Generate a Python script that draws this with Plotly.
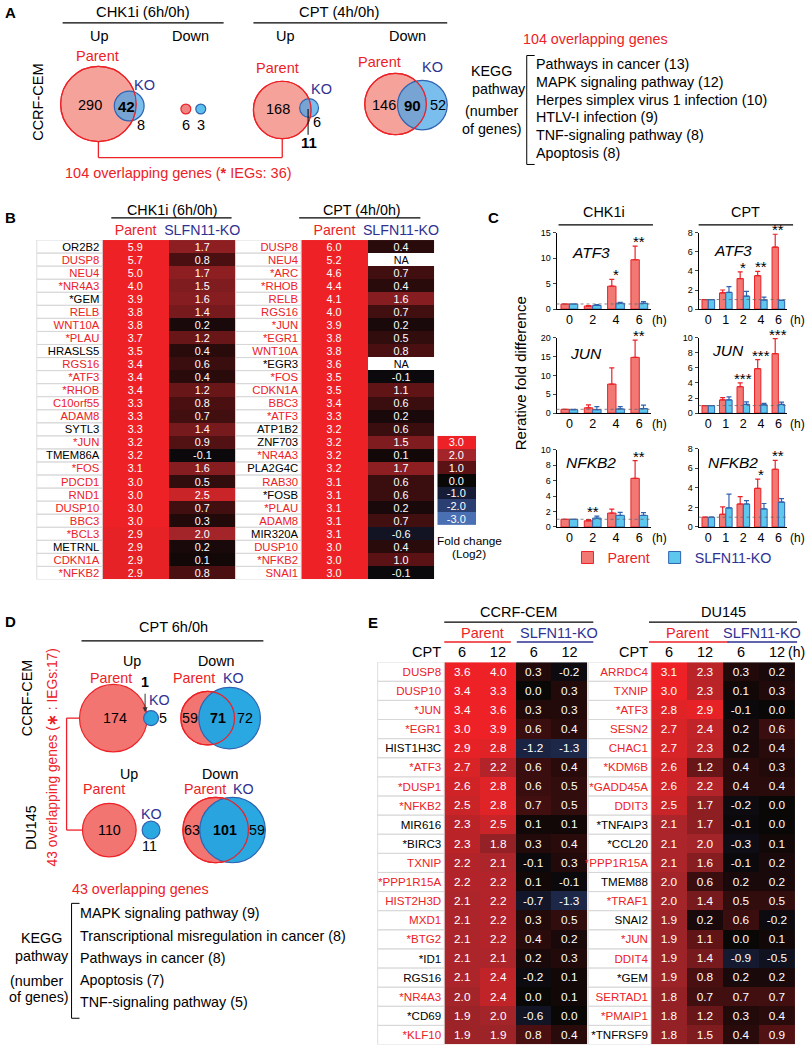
import plotly.graph_objects as go

W, H = 812, 1050
FONT = "Liberation Sans, Arial, Helvetica, sans-serif"
RED = "#ec2227"
BLUE = "#2e3192"

# ===================== DATA =====================
# Panel A: Venn counts [Parent only, overlap, KO only]
A_CHK_UP = [290, 42, 8]
A_CHK_DOWN = [6, 3]
A_CPT_UP = [168, 11, 6]
A_CPT_DOWN = [146, 90, 52]
A_OVERLAP = 104
A_IEGS = 36
A_KEGG = ["Pathways in cancer (13)", "MAPK signaling pathway (12)",
          "Herpes simplex virus 1 infection (10)", "HTLV-I infection (9)",
          "TNF-signaling pathway (8)", "Apoptosis (8)"]

# Panel B: log2 fold change heatmaps
B_CHK_GENES = ["OR2B2", "DUSP8", "NEU4", "*NR4A3", "*GEM", "RELB", "WNT10A", "*PLAU",
               "HRASLS5", "RGS16", "*ATF3", "*RHOB", "C10orf55", "ADAM8", "SYTL3", "*JUN",
               "TMEM86A", "*FOS", "PDCD1", "RND1", "DUSP10", "BBC3", "*BCL3", "METRNL",
               "CDKN1A", "*NFKB2"]
B_CHK_RED = [0, 1, 1, 1, 0, 1, 1, 1, 0, 1, 1, 1, 1, 1, 0, 1, 0, 1, 1, 1, 1, 1, 1, 0, 1, 1]
B_CHK_PARENT = [5.9, 5.7, 5.0, 4.0, 3.9, 3.8, 3.8, 3.7, 3.5, 3.4, 3.4, 3.4, 3.3, 3.3, 3.3,
                3.2, 3.2, 3.1, 3.0, 3.0, 3.0, 3.0, 2.9, 2.9, 2.9, 2.9]
B_CHK_KO = [1.7, 0.8, 1.7, 1.5, 1.6, 1.4, 0.2, 1.2, 0.4, 0.6, 0.4, 1.2, 0.8, 0.7, 1.4,
            0.9, -0.1, 1.6, 0.5, 2.5, 0.7, 0.3, 2.0, 0.2, 0.1, 0.8]
B_CPT_GENES = ["DUSP8", "NEU4", "*ARC", "*RHOB", "RELB", "RGS16", "*JUN", "*EGR1", "WNT10A",
               "*EGR3", "*FOS", "CDKN1A", "BBC3", "*ATF3", "ATP1B2", "ZNF703", "*NR4A3",
               "PLA2G4C", "RAB30", "*FOSB", "*PLAU", "ADAM8", "MIR320A", "DUSP10", "*NFKB2",
               "SNAI1"]
B_CPT_RED = [1, 1, 1, 1, 1, 1, 1, 1, 1, 0, 1, 1, 1, 1, 0, 0, 1, 0, 1, 0, 1, 1, 0, 1, 1, 1]
B_CPT_PARENT = [6.0, 5.2, 4.6, 4.4, 4.1, 4.0, 3.9, 3.8, 3.8, 3.6, 3.5, 3.5, 3.4, 3.3, 3.2,
                3.2, 3.2, 3.2, 3.1, 3.1, 3.1, 3.1, 3.1, 3.0, 3.0, 3.0]
B_CPT_KO = [0.4, None, 0.7, 0.4, 1.6, 0.7, 0.2, 0.5, 0.8, None, -0.1, 1.1, 0.6, 0.2, 0.6,
            1.5, 0.1, 1.7, 0.6, 0.6, 0.2, 0.7, -0.6, 0.4, 1.0, -0.1]
B_SCALE = [3.0, 2.0, 1.0, 0.0, -1.0, -2.0, -3.0]

# Panel C: qPCR relative fold difference (mean, error)
C_CHK_TIMES = ["0", "2", "4", "6"]
C_CPT_TIMES = ["0", "1", "2", "4", "6"]
C_ATF3_CHK_PAR = [1.0, 0.6, 4.5, 9.7]
C_ATF3_CHK_PAR_ERR = [0.0, 0.1, 1.35, 2.7]
C_ATF3_CHK_KO = [1.0, 0.7, 1.15, 1.15]
C_ATF3_CHK_KO_ERR = [0.0, 0.2, 0.15, 0.3]
C_ATF3_CHK_STARS = ["", "", "*", "**"]
C_ATF3_CPT_PAR = [1.0, 1.7, 3.2, 3.5, 6.5]
C_ATF3_CPT_PAR_ERR = [0.0, 0.3, 0.7, 0.45, 1.35]
C_ATF3_CPT_KO = [1.0, 1.75, 1.35, 0.95, 0.9]
C_ATF3_CPT_KO_ERR = [0.0, 0.6, 0.5, 0.3, 0.05]
C_ATF3_CPT_STARS = ["", "", "*", "**", "**"]
C_JUN_CHK_PAR = [1.0, 1.4, 7.7, 14.8]
C_JUN_CHK_PAR_ERR = [0.0, 0.8, 4.3, 4.6]
C_JUN_CHK_KO = [0.9, 0.9, 1.1, 1.2]
C_JUN_CHK_KO_ERR = [0.1, 0.8, 0.6, 0.9]
C_JUN_CHK_STARS = ["", "", "", "**"]
C_JUN_CPT_PAR = [1.0, 1.75, 3.5, 5.9, 7.9]
C_JUN_CPT_PAR_ERR = [0.0, 0.3, 0.5, 1.2, 2.0]
C_JUN_CPT_KO = [1.0, 1.75, 1.15, 1.1, 1.15]
C_JUN_CPT_KO_ERR = [0.0, 0.4, 0.35, 0.2, 0.3]
C_JUN_CPT_STARS = ["", "", "***", "***", "***"]
C_NFKB2_CHK_PAR = [1.0, 0.8, 1.8, 6.3]
C_NFKB2_CHK_PAR_ERR = [0.0, 0.15, 0.5, 2.3]
C_NFKB2_CHK_KO = [1.0, 1.15, 1.5, 1.5]
C_NFKB2_CHK_KO_ERR = [0.0, 0.25, 0.4, 0.35]
C_NFKB2_CHK_STARS = ["", "**", "", "**"]
C_NFKB2_CPT_PAR = [1.0, 1.3, 2.35, 3.95, 5.9]
C_NFKB2_CPT_PAR_ERR = [0.0, 0.75, 0.75, 0.95, 0.9]
C_NFKB2_CPT_KO = [1.0, 1.95, 2.35, 1.85, 2.55]
C_NFKB2_CPT_KO_ERR = [0.0, 1.4, 0.35, 0.55, 0.35]
C_NFKB2_CPT_STARS = ["", "", "", "*", "**"]

# Panel D: Venn counts [Parent only, overlap, KO only]
D_CEM_UP = [174, 1, 5]
D_CEM_DOWN = [59, 71, 72]
D_DU_UP = [110, 0, 11]
D_DU_DOWN = [63, 101, 59]
D_OVERLAP = 43
D_IEGS = 17
D_KEGG = ["MAPK signaling pathway (9)", "Transcriptional misregulation in cancer (8)",
          "Pathways in cancer (8)", "Apoptosis (7)", "TNF-signaling pathway (5)"]

# Panel E: log2 fold change, CPT 6h / 12h
E_COLS = ["6", "12", "6", "12"]
E_CEM_GENES = ["DUSP8", "DUSP10", "*JUN", "*EGR1", "HIST1H3C", "*ATF3", "*DUSP1", "*NFKB2",
               "MIR616", "*BIRC3", "TXNIP", "*PPP1R15A", "HIST2H3D", "MXD1", "*BTG2", "*ID1",
               "RGS16", "*NR4A3", "*CD69", "*KLF10"]
E_CEM_RED = [1, 1, 1, 1, 0, 1, 1, 1, 0, 0, 1, 1, 1, 1, 1, 0, 0, 1, 0, 1]
E_CEM_PAR6 = [3.6, 3.4, 3.4, 3.0, 2.9, 2.7, 2.6, 2.5, 2.3, 2.3, 2.2, 2.2, 2.1, 2.1, 2.1, 2.1, 2.1, 2.0, 1.9, 1.9]
E_CEM_PAR12 = [4.0, 3.3, 3.6, 3.9, 2.8, 2.2, 2.8, 2.8, 2.5, 1.8, 2.1, 2.2, 2.2, 2.2, 2.2, 2.1, 2.4, 2.4, 2.0, 1.9]
E_CEM_KO6 = [0.3, 0.0, 0.3, 0.6, -1.2, 0.6, 0.6, 0.7, 0.1, 0.3, -0.1, 0.1, -0.7, 0.3, 0.4, 0.2, -0.2, 0.0, -0.6, 0.8]
E_CEM_KO12 = [-0.2, 0.3, 0.3, 0.4, -1.3, 0.4, 0.5, 0.5, 0.1, 0.4, 0.3, -0.1, -1.3, 0.5, 0.2, 0.3, 0.1, 0.1, 0.0, 0.4]
E_DU_GENES = ["ARRDC4", "TXNIP", "*ATF3", "SESN2", "CHAC1", "*KDM6B", "*GADD45A", "DDIT3",
              "*TNFAIP3", "*CCL20", "*PPP1R15A", "TMEM88", "*TRAF1", "SNAI2", "*JUN", "DDIT4",
              "*GEM", "SERTAD1", "*PMAIP1", "*TNFRSF9"]
E_DU_RED = [1, 1, 1, 1, 1, 1, 1, 1, 0, 0, 1, 0, 1, 0, 1, 1, 0, 1, 1, 0]
E_DU_PAR6 = [3.1, 3.0, 2.8, 2.7, 2.7, 2.6, 2.6, 2.5, 2.1, 2.1, 2.1, 2.0, 2.0, 1.9, 1.9, 1.9, 1.9, 1.8, 1.8, 1.8]
E_DU_PAR12 = [2.3, 2.3, 2.9, 2.4, 2.3, 1.2, 2.2, 1.7, 1.7, 2.0, 1.6, 0.6, 1.4, 0.2, 1.1, 1.4, 0.8, 0.7, 1.2, 1.5]
E_DU_KO6 = [0.3, 0.1, -0.1, 0.2, 0.2, 0.4, 0.4, -0.2, -0.1, -0.3, -0.1, 0.2, 0.5, 0.6, 0.0, -0.9, 0.2, 0.7, 0.3, 0.4]
E_DU_KO12 = [0.2, 0.3, 0.0, 0.6, 0.4, 0.3, 0.4, 0.0, 0.0, 0.1, 0.2, 0.2, 0.5, -0.2, 0.1, -0.5, 0.2, 0.7, 0.4, 0.9]

# ===================== HELPERS =====================
fig = go.Figure()
annotations = []
shapes = []
layout_axes = {}

CS = [[0.0, "#4a6fb2"], [1 / 6, "#2c3f72"], [2 / 6, "#171c36"], [0.5, "#0a0707"],
      [4 / 6, "#5a1214"], [5 / 6, "#a3252a"], [1.0, "#ee2226"]]
FS = 14.3  # main label font size


def px(x):
    return x / W


def py(y):
    return 1 - y / H


def ann(x, y, text, size=FS, color="black", xa="center", ya="middle", angle=0):
    annotations.append(dict(x=px(x), y=py(y), xref="paper", yref="paper", text=text,
                            showarrow=False, xanchor=xa, yanchor=ya, textangle=angle,
                            borderpad=0, font=dict(size=size, color=color, family=FONT)))


def seg(points, color="black", width=1.2):
    for (x0, y0), (x1, y1) in zip(points[:-1], points[1:]):
        shapes.append(dict(type="line", xref="paper", yref="paper", x0=px(x0), y0=py(y0),
                           x1=px(x1), y1=py(y1), line=dict(color=color, width=width)))


def circ(cx, cy, r, fill, lc, lw=1.2):
    shapes.append(dict(type="circle", xref="paper", yref="paper", x0=px(cx - r), x1=px(cx + r),
                       y0=py(cy + r), y1=py(cy - r), fillcolor=fill,
                       line=dict(color=lc, width=lw)))


def axn(i):
    return ("x", "y", "xaxis", "yaxis") if i == 1 else (f"x{i}", f"y{i}", f"xaxis{i}", f"yaxis{i}")


def colored(label, red):
    return f"<span style='color:{RED}'>{label}</span>" if red else label


def heat(i, cols, genes, red, x0, x1, ytop, ybot, lab_x0, top_labels, top_size, val_size,
         label_size):
    xa, ya, xk, yk = axn(i)
    n = len(genes)
    z = [list(r) for r in zip(*cols)]
    text = [["" if v is None else f"{v:.1f}" for v in r] for r in z]
    fig.add_trace(go.Heatmap(z=z, x=list(range(len(cols))), y=list(range(n)), zmin=-3, zmax=3,
                             colorscale=CS, showscale=False, text=text, texttemplate="%{text}",
                             textfont=dict(color="white", size=val_size, family=FONT),
                             xaxis=xa, yaxis=ya, hoverinfo="skip"))
    layout_axes[xk] = dict(domain=[px(x0), px(x1)], anchor=ya, range=[-0.5, len(cols) - 0.5],
                           side="top", tickvals=list(range(len(cols))), ticktext=top_labels,
                           ticks="", showline=False, showgrid=False, zeroline=False,
                           tickfont=dict(size=top_size, family=FONT, color="black"),
                           ticklabelstandoff=1)
    layout_axes[yk] = dict(domain=[py(ybot), py(ytop)], anchor=xa, range=[n - 0.5, -0.5],
                           tickvals=list(range(n)),
                           ticktext=[colored(g, r) for g, r in zip(genes, red)],
                           ticks="", showline=False, showgrid=False, zeroline=False,
                           tickfont=dict(size=label_size, family=FONT, color="black"),
                           ticklabelstandoff=2)
    for k in range(n):
        shapes.append(dict(type="rect", xref="paper", yref=ya, x0=px(lab_x0), x1=px(x0),
                           y0=k - 0.5, y1=k + 0.5, line=dict(color="#d4d4d4", width=0.8),
                           fillcolor="rgba(0,0,0,0)"))
    return z


PAR_FILL = "#f27874"
KO_FILL = "#5dc7ee"
KO_LINE = "#2f63b0"
PAR_NAME = f"<span style='color:{RED}'>Parent</span>"
KO_NAME = f"<span style='color:{BLUE}'>SLFN11-KO</span>"


def bars(i, cats, par, perr, ko, kerr, stars, ymax, dtick, x0, x1, ytop, ybot,
         gene, gx, gy, legend):
    xa, ya, xk, yk = axn(i)
    fig.add_trace(go.Bar(x=cats, y=par, name=PAR_NAME, offsetgroup="p", legendgroup="p",
                         showlegend=legend,
                         marker=dict(color=PAR_FILL, line=dict(color=RED, width=1)),
                         error_y=dict(type="data", array=perr, arrayminus=[0] * len(perr),
                                      symmetric=False, color=RED, thickness=1.2, width=2.5),
                         xaxis=xa, yaxis=ya, hoverinfo="skip"))
    fig.add_trace(go.Bar(x=cats, y=ko, name=KO_NAME, offsetgroup="k", legendgroup="k",
                         showlegend=legend,
                         marker=dict(color=KO_FILL, line=dict(color=KO_LINE, width=1)),
                         error_y=dict(type="data", array=kerr, arrayminus=[0] * len(kerr),
                                      symmetric=False, color=KO_LINE, thickness=1.2, width=2.5),
                         xaxis=xa, yaxis=ya, hoverinfo="skip"))
    layout_axes[xk] = dict(domain=[px(x0), px(x1)], anchor=ya, type="category",
                           range=[-0.55, len(cats) - 0.5], showline=True, linecolor="black",
                           linewidth=1, ticks="", showgrid=False, zeroline=False,
                           tickfont=dict(size=12.5, family=FONT, color="black"),
                           ticklabelstandoff=-1)
    layout_axes[yk] = dict(domain=[py(ybot), py(ytop)], anchor=xa, range=[0, ymax],
                           tickvals=list(range(0, ymax + 1, dtick)), showline=True,
                           linecolor="black", linewidth=1, ticks="outside", ticklen=3,
                           tickwidth=1, showgrid=False, zeroline=False,
                           tickfont=dict(size=9, family=FONT, color="black"))
    shapes.append(dict(type="line", xref=f"{xa} domain", yref=ya, x0=0, x1=1, y0=1, y1=1,
                       line=dict(color="#666666", width=0.8, dash="dot")))
    for j, (s, p, pe, k, ke) in enumerate(zip(stars, par, perr, ko, kerr)):
        if s:
            annotations.append(dict(x=j, y=max(p + pe, k + ke), xref=xa, yref=ya, text=s,
                                    showarrow=False, yanchor="bottom", yshift=-6,
                                    font=dict(size=15, family=FONT, color="black")))
    ann(gx, gy, f"<i>{gene}</i>", size=15.5)


# ===================== PANEL A =====================
ann(4, 8, "<b>A</b>", size=15, xa="left")
ann(144, 7, "CHK1i (6h/0h)", size=14.8)
seg([(63, 18), (225, 18)])
ann(341, 7, "CPT (4h/0h)", size=14.8)
seg([(255, 18), (450, 18)])
ann(100, 31, "Up", size=14.5)
ann(192, 31, "Down", size=14.5)
ann(287, 31, "Up", size=14.5)
ann(410, 31, "Down", size=14.5)
ann(38, 98, "CCRF-CEM", size=14.5, angle=-90)

A_RED_FILL = "#f5a29b"
A_BLUE_FILL = "rgba(70,165,232,0.72)"
# CHK1i Up
circ(99, 100, 38, A_RED_FILL, RED)
circ(130, 102, 15, A_BLUE_FILL, KO_LINE)
circ(99, 100, 38, "rgba(0,0,0,0)", RED)
ann(98, 51, "Parent", size=14.5, color=RED)
ann(145, 81, "KO", size=14.5, color=BLUE)
ann(91, 101, str(A_CHK_UP[0]), size=14.5)
ann(127, 102, f"<b>{A_CHK_UP[1]}</b>", size=15)
ann(142, 121, str(A_CHK_UP[2]), size=14.5)
# CHK1i Down
circ(187, 105, 5, "#f08482", RED)
circ(202, 105, 5, "#5cc0ee", KO_LINE)
ann(187, 121, str(A_CHK_DOWN[0]), size=14.5)
ann(202, 121, str(A_CHK_DOWN[1]), size=14.5)
# CPT Up
circ(284, 106, 29, A_RED_FILL, RED)
circ(311, 104, 9.5, A_BLUE_FILL, KO_LINE)
circ(284, 106, 29, "rgba(0,0,0,0)", RED)
ann(279, 64, "Parent", size=14.5, color=RED)
ann(323, 85, "KO", size=14.5, color=BLUE)
ann(280, 105, str(A_CPT_UP[0]), size=14.5)
seg([(310, 105), (310, 131)], color="black", width=1)
ann(311, 139, f"<b>{A_CPT_UP[1]}</b>", size=15)
ann(319, 118, str(A_CPT_UP[2]), size=14.5)
# CPT Down
circ(398, 100, 31, A_RED_FILL, RED)
circ(425, 101, 25, A_BLUE_FILL, KO_LINE)
circ(398, 100, 31, "rgba(0,0,0,0)", RED)
ann(382, 58, "Parent", size=14.5, color=RED)
ann(435, 63, "KO", size=14.5, color=BLUE)
ann(386, 101, str(A_CPT_DOWN[0]), size=14.5)
ann(415, 101, f"<b>{A_CPT_DOWN[1]}</b>", size=15)
ann(441, 101, str(A_CPT_DOWN[2]), size=14.5)
# bracket
seg([(99, 138), (99, 154), (284, 154), (284, 135)], color=RED, width=1.3)
ann(180, 170, f"{A_OVERLAP} overlapping genes (<b>*</b> IEGs: {A_IEGS})", size=14.5, color=RED)
# KEGG
ann(599, 34, f"{A_OVERLAP} overlapping genes", size=14.3, color=RED)
ann(495, 67, "KEGG", size=14.3)
ann(502, 85, "pathway", size=14.3)
ann(495, 107, "(number", size=14.3)
ann(495, 125, "of genes)", size=14.3)
seg([(538, 51), (530, 51), (530, 161), (538, 161)], width=1)
for k, item in enumerate(A_KEGG):
    ann(538, 60 + k * 17.8, item, size=14.3, xa="left")

# ===================== PANEL B =====================
ann(4, 215, "<b>B</b>", size=15, xa="left")
ann(174, 207, "CHK1i (6h/0h)", size=14.3)
seg([(112, 215), (233, 215)])
ann(364, 207, "CPT (4h/0h)", size=14.3)
seg([(301, 215), (423, 215)])
B_TOP = [f"<span style='color:{RED}'>Parent</span>", f"<span style='color:{BLUE}'>SLFN11-KO</span>"]
heat(1, [B_CHK_PARENT, B_CHK_KO], B_CHK_GENES, B_CHK_RED, 103, 237, 237.3, 580, 37,
     B_TOP, 14.2, 10.8, 11.3)
heat(2, [B_CPT_PARENT, B_CPT_KO], B_CPT_GENES, B_CPT_RED, 303, 437, 237.3, 580, 237,
     B_TOP, 14.2, 10.8, 11.3)
# NA cells
na_z = [[None, 0 if k is None else None] for k in B_CPT_KO]
na_t = [["", "NA" if k is None else ""] for k in B_CPT_KO]
fig.add_trace(go.Heatmap(z=na_z, x=[0, 1], y=list(range(len(B_CPT_KO))), zmin=0, zmax=1,
                         colorscale=[[0, "white"], [1, "white"]], showscale=False, text=na_t,
                         texttemplate="%{text}", textfont=dict(color="black", size=10.8, family=FONT),
                         xaxis="x2", yaxis="y2", hoverinfo="skip"))
# scale legend
fig.add_trace(go.Heatmap(z=[[v] for v in B_SCALE], x=[0], y=list(range(len(B_SCALE))),
                         zmin=-3, zmax=3, colorscale=CS, showscale=False,
                         text=[[f"{v:.1f}"] for v in B_SCALE], texttemplate="%{text}",
                         textfont=dict(color="white", size=11, family=FONT),
                         xaxis="x3", yaxis="y3", hoverinfo="skip"))
layout_axes["xaxis3"] = dict(domain=[px(440), px(479)], anchor="y3", range=[-0.5, 0.5], visible=False)
layout_axes["yaxis3"] = dict(domain=[py(525), py(435)], anchor="x3", range=[len(B_SCALE) - 0.5, -0.5],
                             visible=False)
ann(472, 541, "Fold change", size=11.8)
ann(472, 554, "(Log2)", size=11.8)

# ===================== PANEL C =====================
ann(497, 215, "<b>C</b>", size=15)
ann(524, 372, "Rerative fold difference", size=15, angle=-90)
ann(608, 209, "CHK1i", size=14.4)
seg([(562, 222), (657, 222)])
ann(750, 209, "CPT", size=14.4)
seg([(703, 222), (798, 222)])
bars(6, C_CHK_TIMES, C_ATF3_CHK_PAR, C_ATF3_CHK_PAR_ERR, C_ATF3_CHK_KO, C_ATF3_CHK_KO_ERR,
     C_ATF3_CHK_STARS, 15, 5, 560, 655, 230, 307, "ATF3", 595, 250, True)
bars(7, C_CPT_TIMES, C_ATF3_CPT_PAR, C_ATF3_CPT_PAR_ERR, C_ATF3_CPT_KO, C_ATF3_CPT_KO_ERR,
     C_ATF3_CPT_STARS, 8, 2, 703, 792, 230, 307, "ATF3", 738, 248, False)
bars(8, C_CHK_TIMES, C_JUN_CHK_PAR, C_JUN_CHK_PAR_ERR, C_JUN_CHK_KO, C_JUN_CHK_KO_ERR,
     C_JUN_CHK_STARS, 20, 5, 560, 655, 336, 412, "JUN", 590, 352, False)
bars(9, C_CPT_TIMES, C_JUN_CPT_PAR, C_JUN_CPT_PAR_ERR, C_JUN_CPT_KO, C_JUN_CPT_KO_ERR,
     C_JUN_CPT_STARS, 10, 2, 703, 792, 336, 412, "JUN", 733, 349, False)
bars(10, C_CHK_TIMES, C_NFKB2_CHK_PAR, C_NFKB2_CHK_PAR_ERR, C_NFKB2_CHK_KO, C_NFKB2_CHK_KO_ERR,
     C_NFKB2_CHK_STARS, 10, 2, 560, 655, 449, 527, "NFKB2", 595, 462, False)
bars(11, C_CPT_TIMES, C_NFKB2_CPT_PAR, C_NFKB2_CPT_PAR_ERR, C_NFKB2_CPT_KO, C_NFKB2_CPT_KO_ERR,
     C_NFKB2_CPT_STARS, 8, 2, 703, 792, 448, 527, "NFKB2", 738, 462, False)
for hy in (318, 423, 538):
    ann(664, hy, "(h)", size=12)
    ann(811, hy, "(h)", size=12, xa="right")

# ===================== PANEL D =====================
ann(4, 622, "<b>D</b>", size=15, xa="left")
ann(175, 628, "CPT 6h/0h", size=14.5)
seg([(82, 642), (265, 642)])
ann(28, 700, "CCRF-CEM", size=14.3, angle=-90)
ann(31, 830, "DU145", size=14.3, angle=-90)
ann(53, 760, f"{D_OVERLAP} overlapping genes (<b>∗</b> : IEGs:{D_IEGS})", size=13.8, color=RED, angle=-90)
D_RED_FILL = "#f27572"
D_BLUE_FILL = "rgba(35,165,225,0.97)"
# CEM Up
ann(133, 662, "Up", size=FS)
ann(112, 679, "Parent", size=FS, color=RED)
circ(114, 720, 34, D_RED_FILL, RED)
circ(152, 720, 7.5, D_BLUE_FILL, KO_LINE)
ann(116, 720, str(D_CEM_UP[0]), size=FS)
ann(146, 684, f"<b>{D_CEM_UP[1]}</b>", size=FS)
annotations.append(dict(x=px(146), y=py(714), xref="paper", yref="paper", text="", showarrow=True,
                        ax=0, ay=-20, arrowhead=2, arrowsize=1, arrowwidth=1, arrowcolor="#333"))
ann(160, 702, "KO", size=FS, color=BLUE)
ann(164, 720, str(D_CEM_UP[2]), size=FS)
# CEM Down
ann(218, 662, "Down", size=FS)
ann(195, 679, "Parent", size=FS, color=RED)
ann(235, 679, "KO", size=FS, color=BLUE)
circ(209, 720, 27, D_RED_FILL, RED)
circ(231, 720, 31, D_BLUE_FILL, KO_LINE)
circ(209, 720, 27, "rgba(0,0,0,0)", RED)
ann(191, 720, str(D_CEM_DOWN[0]), size=FS)
ann(219, 720, f"<b>{D_CEM_DOWN[1]}</b>", size=FS)
ann(247, 720, str(D_CEM_DOWN[2]), size=FS)
# DU Up
ann(130, 776, "Up", size=FS)
ann(105, 792, "Parent", size=FS, color=RED)
circ(110, 833, 27, D_RED_FILL, RED)
circ(152, 833, 9, D_BLUE_FILL, KO_LINE)
ann(110, 833, str(D_DU_UP[0]), size=FS)
ann(152, 817, "KO", size=FS, color=BLUE)
ann(150, 849, str(D_DU_UP[2]), size=FS)
# DU Down
ann(222, 776, "Down", size=FS)
ann(206, 792, "Parent", size=FS, color=RED)
ann(245, 792, "KO", size=FS, color=BLUE)
circ(217, 833, 33, D_RED_FILL, RED)
circ(234, 833, 33, D_BLUE_FILL, KO_LINE)
circ(217, 833, 33, "rgba(0,0,0,0)", RED)
ann(193, 833, str(D_DU_DOWN[0]), size=FS)
ann(226, 833, f"<b>{D_DU_DOWN[1]}</b>", size=FS)
ann(259, 833, str(D_DU_DOWN[2]), size=FS)
# bracket
seg([(80, 720), (67, 720), (67, 833), (83, 833)], color=RED, width=1.3)
ann(141, 892, f"{D_OVERLAP} overlapping genes", size=FS, color=RED)
ann(42, 942, "KEGG", size=FS)
ann(42, 960, "pathway", size=FS)
ann(37, 985, "(number", size=FS)
ann(39, 1002, "of genes)", size=FS)
seg([(80, 907), (72, 907), (72, 1023), (80, 1023)], width=1)
for k, item in enumerate(D_KEGG):
    ann(79, 917 + k * 22.5, item, size=FS, xa="left")

# ===================== PANEL E =====================
ann(375, 623, "<b>E</b>", size=15)
ann(522, 613, "CCRF-CEM", size=14.5)
seg([(447, 623), (597, 623)])
ann(728, 613, "DU145", size=14.5)
seg([(653, 623), (802, 623)])
ann(485, 634, "Parent", size=14.5, color=RED)
seg([(447, 643), (514, 643)], color=RED, width=1.5)
ann(562, 634, "SLFN11-KO", size=14.5, color=BLUE)
seg([(520, 643), (597, 643)], color=BLUE, width=1.5)
ann(692, 634, "Parent", size=14.5, color=RED)
seg([(653, 643), (733, 643)], color=RED, width=1.5)
ann(767, 634, "SLFN11-KO", size=14.5, color=BLUE)
seg([(732, 643), (802, 643)], color=BLUE, width=1.5)
ann(445, 653, "CPT", size=14.5, xa="right")
ann(653, 653, "CPT", size=14.5, xa="right")
ann(811, 653, "(h)", size=14, xa="right")
heat(4, [E_CEM_PAR6, E_CEM_PAR12, E_CEM_KO6, E_CEM_KO12], E_CEM_GENES, E_CEM_RED,
     447, 591, 663.5, 1049.5, 380, E_COLS, 14.5, 11.8, 11.6)
heat(5, [E_DU_PAR6, E_DU_PAR12, E_DU_KO6, E_DU_KO12], E_DU_GENES, E_DU_RED,
     655, 800, 663.5, 1049.5, 592, E_COLS, 14.5, 11.8, 11.6)

# ===================== LAYOUT =====================
fig.update_layout(
    width=W, height=H, margin=dict(l=0, r=0, t=0, b=0),
    paper_bgcolor="white", plot_bgcolor="white",
    font=dict(family=FONT, size=12, color="black"),
    barmode="group", bargap=0.28, bargroupgap=0.0,
    showlegend=True,
    legend=dict(orientation="h", x=px(571), y=py(558), xanchor="left", yanchor="middle",
                font=dict(size=14.3, family=FONT), bgcolor="rgba(0,0,0,0)", itemwidth=30,
                tracegroupgap=0),
    annotations=annotations, shapes=shapes,
    **layout_axes,
)
fig.write_html("out.html", config={"displayModeBar": False},
               post_script="document.body.style.margin='0px';document.body.style.padding='0px';")
